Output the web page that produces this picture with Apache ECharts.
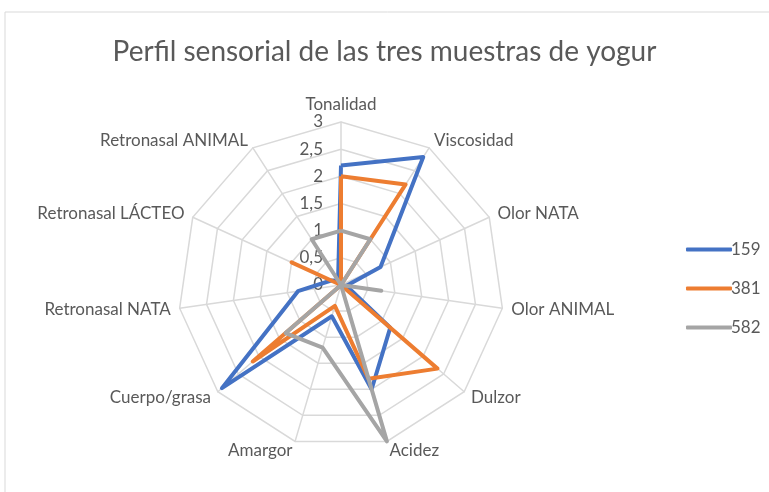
<!DOCTYPE html>
<html lang="es">
<head>
	<meta charset="UTF-8">
	<title>Perfil sensorial</title>
	<script type="text/javascript" src="https://cdn.jsdelivr.net/npm/echarts@6/dist/echarts.min.js"></script>
	<style type="text/css">
	html, body{margin: 0; padding: 0; background: #fff;}
	#container{width: 769px; height: 492px;}
	</style>
</head>
<body>
	<div id="container"></div>
	<script type="text/javascript">
		// atributos evaluados (sentido horario desde arriba)
		var atributos = ['Tonalidad', 'Viscosidad', 'Olor NATA', 'Olor ANIMAL', 'Dulzor', 'Acidez',
			'Amargor', 'Cuerpo/grasa', 'Retronasal NATA', 'Retronasal LÁCTEO', 'Retronasal ANIMAL'];
		var muestras = ['159', '381', '582'];
		var m159 = [2.2, 2.8, 0.8, 0.1, 1.2, 2.0, 0.6, 2.9, 0.8, 0.2, 0.1];
		var m381 = [2.0, 2.2, 0.0, 0.0, 2.35, 1.8, 0.4, 2.15, 0.0, 1.0, 0.0];
		var m582 = [1.0, 1.0, 0.0, 0.75, 0.0, 3.0, 1.2, 1.35, 0.0, 0.0, 1.0];
		var escalaMax = 3;
		var colores = ['#4472C4', '#ED7D31', '#A5A5A5'];

		var fuente = 'Lato, "Open Sans", sans-serif';

		// el radar de echarts va en sentido antihorario: se invierte el orden salvo el primero
		function horario(arr){
			return [arr[0]].concat(arr.slice(1).reverse());
		}

		var indicadores = horario(atributos).map(function(n, i){
			var o = {name: n, max: escalaMax, min: 0};
			if (i === 0) {
				o.axisLabel = {show: true};
			}
			return o;
		});

		var myChart = echarts.init(document.getElementById('container'));
		var option = {
			animation: false,
			title: {
				text: 'Perfil sensorial de las tres muestras de yogur',
				left: 'center',
				top: 33,
				textStyle: {fontFamily: fuente, fontSize: 28, fontWeight: 'normal', color: '#595959'}
			},
			graphic: [{
				type: 'rect',
				shape: {x: 5, y: 12, width: 800, height: 500},
				style: {fill: 'none', stroke: '#d9d9d9', lineWidth: 1}
			}],
			legend: {
				data: muestras,
				orient: 'vertical',
				left: 681,
				top: 236,
				itemWidth: 46,
				itemHeight: 4,
				itemGap: 22,
				icon: 'roundRect',
				textStyle: {fontFamily: fuente, fontSize: 17, color: '#595959', padding: [0, 0, 0, -6]}
			},
			radar: {
				center: [341, 285],
				radius: 163,
				startAngle: 90,
				splitNumber: 6,
				shape: 'polygon',
				indicator: indicadores,
				axisName: {fontFamily: fuente, fontSize: 17, color: '#595959'},
				nameGap: 9,
				splitLine: {lineStyle: {color: '#d9d9d9', width: 1.5}},
				splitArea: {show: false},
				axisLine: {lineStyle: {color: '#d9d9d9', width: 1.5}},
				axisTick: {show: false},
				axisLabel: {
					show: false,
					fontFamily: fuente,
					fontSize: 17,
					color: '#595959',
					margin: 18,
					formatter: function(v){ return String(v).replace('.', ','); }
				}
			},
			series: [{
				type: 'radar',
				symbol: 'none',
				data: [
					{name: muestras[0], value: horario(m159), lineStyle: {color: colores[0], width: 4}, itemStyle: {color: colores[0]}},
					{name: muestras[1], value: horario(m381), lineStyle: {color: colores[1], width: 4}, itemStyle: {color: colores[1]}},
					{name: muestras[2], value: horario(m582), lineStyle: {color: colores[2], width: 4}, itemStyle: {color: colores[2]}}
				]
			}]
		};
		myChart.setOption(option);
	</script>
</body>
</html>
